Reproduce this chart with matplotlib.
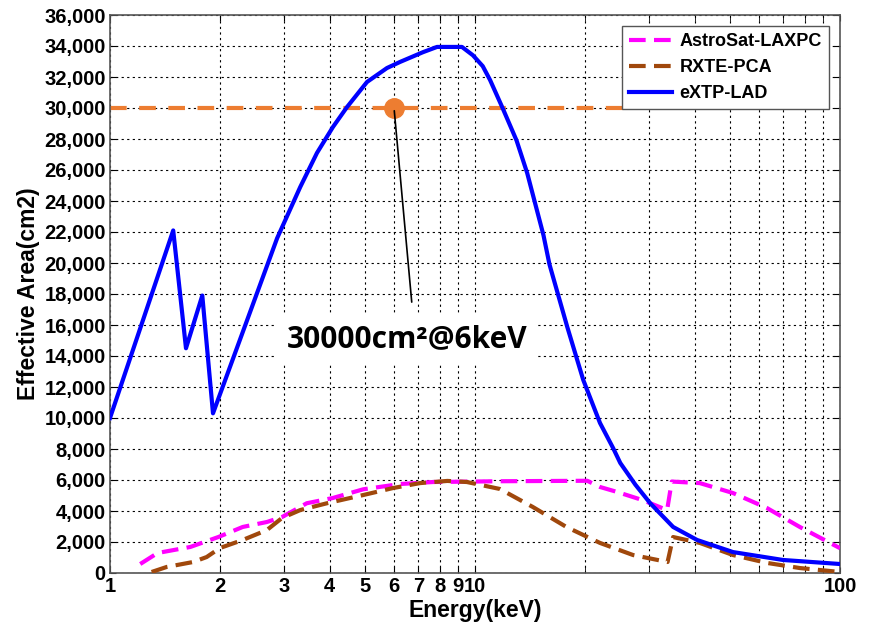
import numpy as np
import matplotlib
matplotlib.use('Agg')
import matplotlib.pyplot as plt
from matplotlib.ticker import FixedLocator, FuncFormatter, NullFormatter

# eXTP-LAD effective area
lad_energy = [1.0, 1.49, 1.615, 1.79, 1.915, 2.87, 3.32, 3.69, 4.08, 4.46, 5.06, 5.74,
              6.23, 7.2, 7.87, 9.21, 9.87, 10.5, 11.0, 11.9, 13.0, 13.9, 15.4, 16.0, 17.9,
              19.8, 22.0, 23.9, 25.0, 27.5, 30.2, 34.9, 40.6, 50.9, 69.8, 100.0]
lad_area = [10000, 22100, 14500, 17900, 10300, 21600, 24900, 27100, 28770, 30060, 31680, 32580,
            32970, 33600, 33940, 33940, 33400, 32700, 31800, 30000, 27900, 25800, 21800, 19900, 15870,
            12450, 9680, 8060, 7100, 5700, 4500, 2970, 2130, 1350, 840, 580]

# AstroSat-LAXPC
laxpc_energy = [1.21, 1.35, 1.66, 1.98, 2.31, 2.69, 2.96, 3.46, 4.08, 4.94, 6.23, 7.67,
                11.7, 20.3, 22.0, 24.5, 28.8, 33.6, 34.6, 41.3, 50.9, 63.1, 77.6, 100.0]
laxpc_area = [580, 1290, 1680, 2320, 2970, 3290, 3610, 4500, 4840, 5400, 5740, 5870,
              5920, 5950, 5550, 5230, 4700, 4060, 5900, 5800, 5160, 4190, 2970, 1600]

# RXTE-PCA
pca_energy = [1.30, 1.43, 1.69, 1.84, 2.00, 2.31, 2.69, 2.96, 3.32, 3.93, 4.94, 5.96,
              7.07, 8.4, 9.5, 11.7, 14.4, 17.8, 22.0, 27.1, 33.7, 34.9, 41.3, 50.9,
              63.1, 77.6, 100.0]
pca_area = [65, 390, 710, 1030, 1610, 2130, 2770, 3550, 4060, 4500, 5030, 5480,
            5800, 5940, 5870, 5420, 4260, 2970, 1940, 1160, 710, 2320, 1940, 1160,
            650, 320, 65]

ref_level = 30000
ref_energy = 6
ref_end = 25.5
label_text = '30000cm²@6keV'

plt.rcParams['font.family'] = ['Liberation Sans', 'DejaVu Sans']
plt.rcParams['font.weight'] = 'bold'

fig = plt.figure(figsize=(8.69, 6.23), dpi=100)
ax = fig.add_axes([110 / 869, 50 / 623, 730 / 869, 558 / 623])

ax.plot(laxpc_energy, laxpc_area, color='#FF00FF', lw=3, dashes=(4, 2), label='AstroSat-LAXPC', zorder=3)
ax.plot(pca_energy, pca_area, color='#A0480C', lw=3, dashes=(4, 2), label='RXTE-PCA', zorder=3)
ax.plot(lad_energy, lad_area, color='#0000FF', lw=3, label='eXTP-LAD', zorder=4)

# 30000 cm2 reference line and marker
ax.plot([1, ref_end], [ref_level, ref_level], color='#ED7D31', lw=3, dashes=(4, 3), zorder=2)
ax.plot([ref_energy], [ref_level], 'o', color='#ED7D31', ms=14, zorder=5)
ax.annotate('', xy=(ref_energy, ref_level), xytext=(6.72, 17300),
            arrowprops=dict(arrowstyle='-', color='black', lw=1.2), zorder=5)
ax.text(6.5, 15100, label_text, fontsize=21.5, fontweight='bold', family=['Open Sans', 'DejaVu Sans'],
        ha='center', va='center', zorder=6,
        bbox=dict(facecolor='white', edgecolor='none', pad=7))

ax.set_xscale('log')
ax.set_xlim(1, 100)
ax.set_ylim(0, 36000)

major = [1, 2, 3, 4, 5, 6, 7, 8, 9, 10, 100]
minor = [20, 30, 40, 50, 60, 70, 80, 90]
ax.xaxis.set_major_locator(FixedLocator(major))
ax.xaxis.set_minor_locator(FixedLocator(minor))
ax.xaxis.set_major_formatter(FuncFormatter(lambda v, p: '%d' % v))
ax.xaxis.set_minor_formatter(NullFormatter())
ax.set_yticks(np.arange(0, 36001, 2000))
ax.yaxis.set_major_formatter(FuncFormatter(lambda v, p: '{:,.0f}'.format(v)))

ax.grid(True, which='both', color='black', linestyle=(0, (2, 3)), lw=0.8)
ax.tick_params(which='both', direction='in', top=True, right=True, labelsize=14.5, length=4, pad=3)
for lab in ax.get_xticklabels() + ax.get_yticklabels():
    lab.set_fontweight('bold')
for sp in ax.spines.values():
    sp.set_color('#555555')
    sp.set_linewidth(1.2)

ax.set_xlabel('Energy(keV)', fontsize=16.5, fontweight='bold', labelpad=2)
ax.set_ylabel('Effective Area(cm2)', fontsize=16.5, fontweight='bold', labelpad=3)

leg = ax.legend(loc='upper right', fontsize=13, frameon=True, fancybox=False,
                edgecolor='#555555', framealpha=1, handlelength=2.4, borderpad=0.4,
                labelspacing=0.5, handletextpad=0.4, borderaxespad=0.6)
leg.get_frame().set_linewidth(1.0)
for t in leg.get_texts():
    t.set_fontweight('bold')

fig.savefig('out.png', dpi=100)
